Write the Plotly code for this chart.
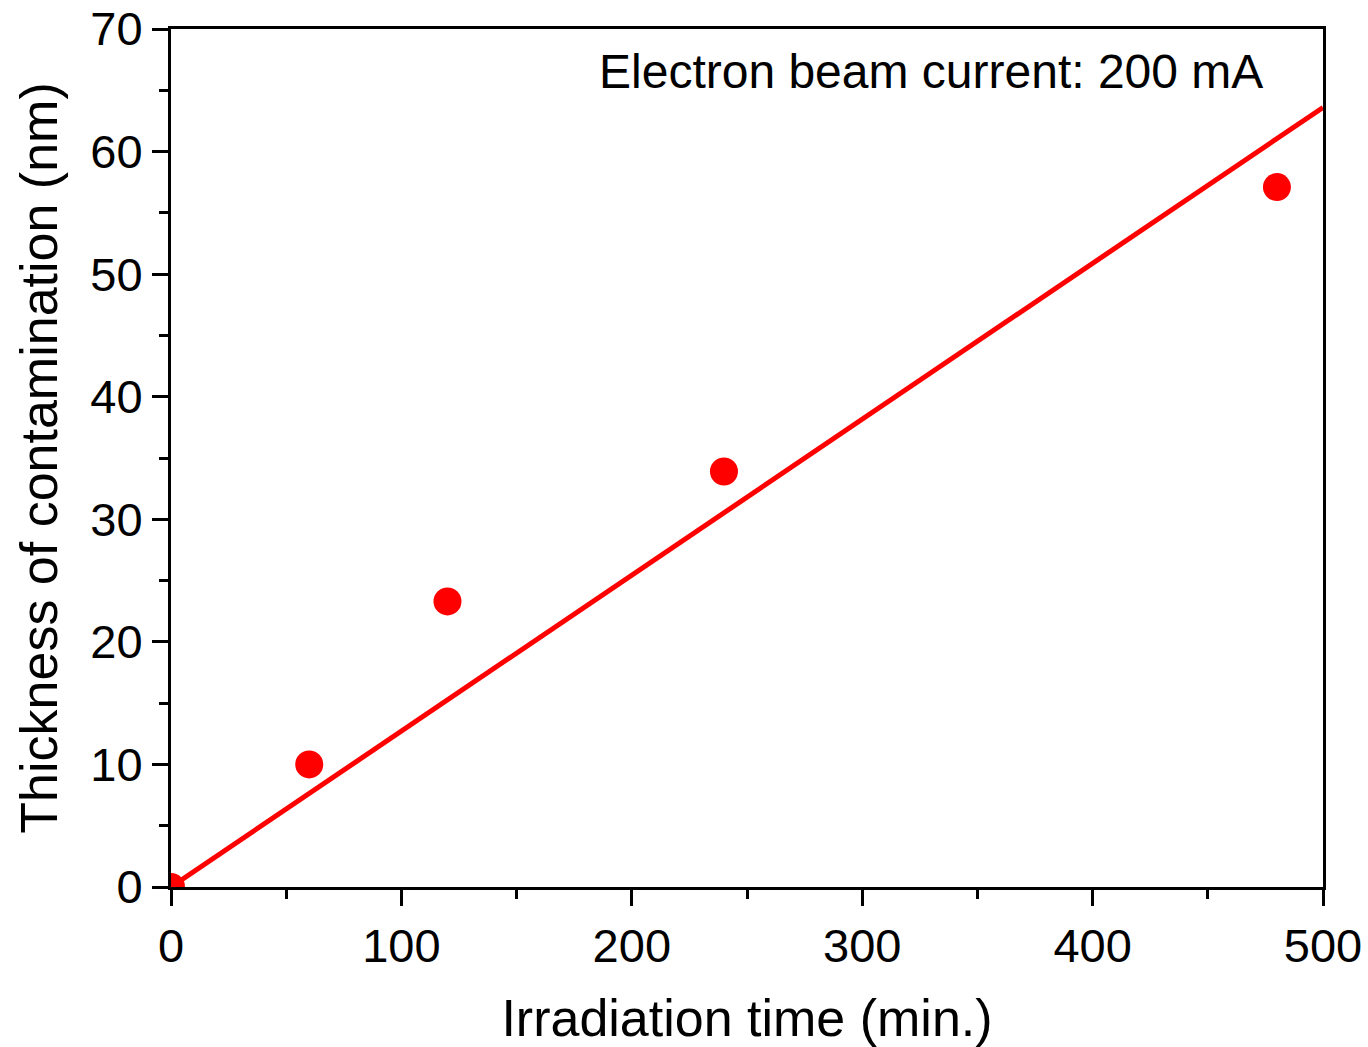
import plotly.graph_objects as go

time_min = [0, 60, 120, 240, 480]
thickness_nm = [0, 10.0, 23.3, 33.9, 57.1]
fit_x = [0, 500]
fit_y = [0, 63.6]

FONT = "Liberation Sans, Arial, sans-serif"

fig = go.Figure()
fig.add_trace(go.Scatter(x=fit_x, y=fit_y, mode="lines",
                         line=dict(color="#ff0000", width=5), showlegend=False))
fig.add_trace(go.Scatter(x=time_min, y=thickness_nm, mode="markers",
                         marker=dict(color="#ff0000", size=28), showlegend=False,
                         cliponaxis=True))

axis_common = dict(showline=True, linecolor="black", linewidth=3, mirror=True,
                   ticks="outside", ticklen=16, tickwidth=3, tickcolor="black",
                   showgrid=False, zeroline=False, ticklabeloverflow="allow",
                   automargin=False,
                   tickfont=dict(family=FONT, size=47, color="black"))

fig.update_xaxes(range=[0, 500], dtick=100,
                 minor=dict(ticks="outside", ticklen=9, tickwidth=3, dtick=50, tickcolor="black"),
                 title=dict(text="Irradiation time (min.)", font=dict(family=FONT, size=52, color="black"), standoff=30),
                 **axis_common)
fig.update_yaxes(range=[0, 70], dtick=10,
                 minor=dict(ticks="outside", ticklen=9, tickwidth=3, dtick=5, tickcolor="black"),
                 title=dict(text="Thickness of contamination (nm)", font=dict(family=FONT, size=52, color="black"), standoff=17),
                 **axis_common)

fig.add_annotation(text="Electron beam current: 200 mA", xref="paper", yref="paper",
                   x=0.95, y=0.95, xanchor="right", yanchor="middle", showarrow=False,
                   font=dict(family=FONT, size=48, color="black"))

fig.update_layout(width=1368, height=1047, plot_bgcolor="white", paper_bgcolor="white",
                  margin=dict(l=171, r=45, t=29, b=160))

fig.write_html("out.html", config={"displayModeBar": False},
               post_script="document.body.style.margin='0';document.body.style.overflow='hidden';")
